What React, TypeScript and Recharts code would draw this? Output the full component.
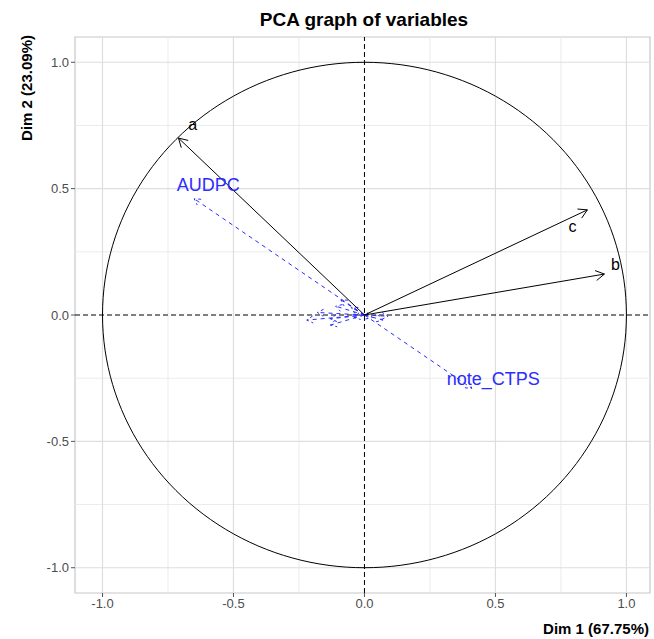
import React from "react";
import {
  ScatterChart,
  Scatter,
  XAxis,
  YAxis,
  ReferenceLine,
  ReferenceArea,
} from "recharts";

// active variables (black arrows)
const activeNames = ["a", "b", "c"];
const activeX = [-0.71, 0.916, 0.851];
const activeY = [0.7, 0.162, 0.416];
const activeLabelX = [-0.656, 0.958, 0.794];
const activeLabelY = [0.752, 0.2, 0.352];

// supplementary variables (blue dashed arrows)
const suppNames = ["AUDPC", "note_CTPS", "", "", "", "", "", "", "", "", "", "", ""];
const suppX = [-0.65, 0.41, -0.22, -0.18, -0.13, -0.13, -0.09, -0.11, -0.05, -0.04, 0.09, 0.07, 0.03];
const suppY = [0.46, -0.29, -0.02, 0.01, -0.015, -0.04, 0.06, 0.035, 0.03, -0.01, -0.005, -0.02, -0.01];
const suppLabelX = [-0.596, 0.492];
const suppLabelY = [0.515, -0.253];

const majorTicks = [-1, -0.5, 0, 0.5, 1];
const minorTicks = [-0.75, -0.25, 0.25, 0.75];

const W = 654;
const H = 639;
const X_DOMAIN: [number, number] = [-1.105, 1.09];
const Y_DOMAIN: [number, number] = [-1.1, 1.1];
const M = { top: 37, right: 4, left: 0, bottom: 0 };
const Y_AXIS_W = 75;
const X_AXIS_H = 46;
const plotW = W - M.left - M.right - Y_AXIS_W;
const plotH = H - M.top - M.bottom - X_AXIS_H;
const kx = plotW / (X_DOMAIN[1] - X_DOMAIN[0]);
const ky = plotH / (Y_DOMAIN[1] - Y_DOMAIN[0]);

// unit circle outline
const circle = Array.from({ length: 181 }, (_, i) => {
  const t = (i / 180) * 2 * Math.PI;
  return { x: Math.cos(t), y: Math.sin(t) };
});

const BLUE = "#2b2bff";
const FONT = "Liberation Sans, Arial, sans-serif";

function makeArrow(color: string, dashed: boolean, size: number) {
  return (props: any) => {
    const { cx, cy, payload } = props;
    if (!payload || (payload.x === 0 && payload.y === 0)) return <g />;
    const ang = Math.atan2(-payload.y * ky, payload.x * kx);
    const a1 = ang + Math.PI - Math.PI / 6;
    const a2 = ang + Math.PI + Math.PI / 6;
    const d = `M${cx + size * Math.cos(a1)},${cy + size * Math.sin(a1)} L${cx},${cy} L${cx + size * Math.cos(a2)},${cy + size * Math.sin(a2)}`;
    return (
      <path
        d={d}
        fill="none"
        stroke={color}
        strokeWidth={1}
        strokeDasharray={dashed ? "3 3" : undefined}
      />
    );
  };
}

const blackHead = makeArrow("#000", false, 10);
const blueHead = makeArrow(BLUE, true, 7);

function makeLabel(color: string, fontSize: number) {
  return (props: any) => {
    const { cx, cy, payload } = props;
    return (
      <text
        x={cx}
        y={cy}
        fill={color}
        fontSize={fontSize}
        textAnchor="middle"
        dominantBaseline="central"
        fontFamily={FONT}
      >
        {payload.name}
      </text>
    );
  };
}

const axisTick = { fill: "#4d4d4d", fontSize: 13, fontFamily: FONT };

export default function App() {
  const activeLabels = activeNames.map((n, i) => ({ name: n, x: activeLabelX[i], y: activeLabelY[i] }));
  const suppLabels = suppLabelX.map((x, i) => ({ name: suppNames[i], x, y: suppLabelY[i] }));

  return (
    <div style={{ position: "absolute", left: 0, top: 0, width: W, height: H, background: "#fff" }}>
      <ScatterChart width={W} height={H} margin={M}>
        <XAxis
          type="number"
          dataKey="x"
          domain={X_DOMAIN}
          ticks={majorTicks}
          tickFormatter={(v: number) => v.toFixed(1)}
          allowDataOverflow
          axisLine={false}
          tickLine={{ stroke: "#555" }}
          tickSize={4}
          height={X_AXIS_H}
          tick={axisTick}
        />
        <YAxis
          type="number"
          dataKey="y"
          domain={Y_DOMAIN}
          ticks={majorTicks}
          tickFormatter={(v: number) => v.toFixed(1)}
          allowDataOverflow
          axisLine={false}
          tickLine={{ stroke: "#555" }}
          tickSize={4}
          width={Y_AXIS_W}
          tick={axisTick}
        />
        {minorTicks.map((v) => (
          <ReferenceLine key={"mx" + v} x={v} stroke="#ebebeb" strokeWidth={1} />
        ))}
        {minorTicks.map((v) => (
          <ReferenceLine key={"my" + v} y={v} stroke="#ebebeb" strokeWidth={1} />
        ))}
        {majorTicks.filter((v) => v !== 0).map((v) => (
          <ReferenceLine key={"Mx" + v} x={v} stroke="#dedede" strokeWidth={1.2} />
        ))}
        {majorTicks.filter((v) => v !== 0).map((v) => (
          <ReferenceLine key={"My" + v} y={v} stroke="#dedede" strokeWidth={1.2} />
        ))}
        <ReferenceArea
          x1={X_DOMAIN[0]}
          x2={X_DOMAIN[1]}
          y1={Y_DOMAIN[0]}
          y2={Y_DOMAIN[1]}
          fill="none"
          stroke="#c8c8c8"
          strokeWidth={1.2}
        />
        <ReferenceLine x={0} stroke="#000" strokeDasharray="5 3" />
        <ReferenceLine y={0} stroke="#000" strokeDasharray="5 3" />
        <Scatter
          data={circle}
          line={{ stroke: "#000", strokeWidth: 1 }}
          shape={() => <g />}
          isAnimationActive={false}
        />
        {suppX.map((x, i) => (
          <Scatter
            key={"s" + i}
            data={[{ x: 0, y: 0 }, { x, y: suppY[i] }]}
            line={{ stroke: BLUE, strokeWidth: 1, strokeDasharray: "4 4" }}
            shape={blueHead}
            isAnimationActive={false}
          />
        ))}
        {activeX.map((x, i) => (
          <Scatter
            key={"a" + i}
            data={[{ x: 0, y: 0 }, { x, y: activeY[i] }]}
            line={{ stroke: "#000", strokeWidth: 1 }}
            shape={blackHead}
            isAnimationActive={false}
          />
        ))}
        <Scatter data={activeLabels} shape={makeLabel("#000", 16)} isAnimationActive={false} />
        <Scatter data={suppLabels} shape={makeLabel(BLUE, 18)} isAnimationActive={false} />
      </ScatterChart>
      <svg
        width={W}
        height={H}
        style={{ position: "absolute", left: 0, top: 0, pointerEvents: "none" }}
        fontFamily={FONT}
      >
        <text x={364} y={26} textAnchor="middle" fontSize={19} fontWeight="bold" fill="#000">
          PCA graph of variables
        </text>
        <text
          x={0}
          y={0}
          transform="translate(32,35) rotate(-90)"
          textAnchor="end"
          fontSize={15}
          fontWeight="bold"
          fill="#000"
        >
          Dim 2 (23.09%)
        </text>
        <text x={649} y={634} textAnchor="end" fontSize={15} fontWeight="bold" fill="#000">
          Dim 1 (67.75%)
        </text>
      </svg>
    </div>
  );
}
